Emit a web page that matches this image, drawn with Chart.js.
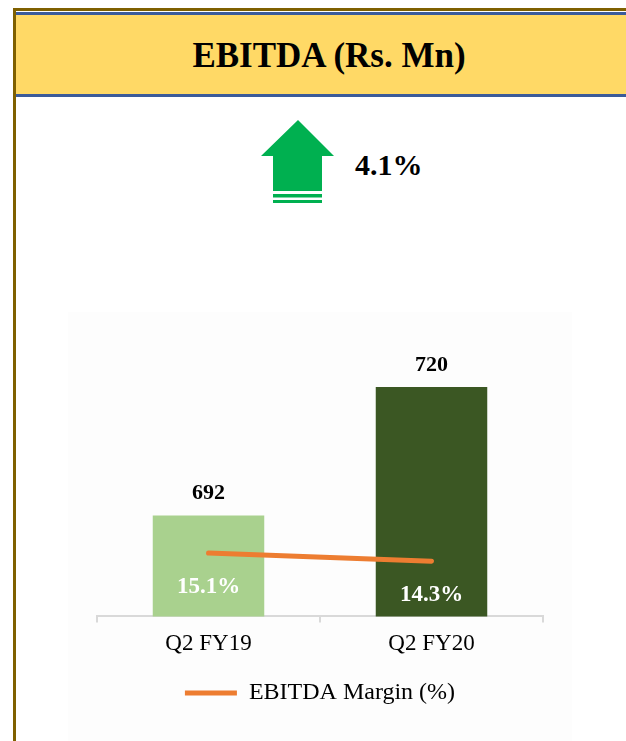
<!DOCTYPE html>
<html>
<head>
<meta charset="utf-8">
<script src="https://cdn.jsdelivr.net/npm/chart.js@4/dist/chart.umd.min.js"></script>
<style>
  html, body { margin: 0; padding: 0; background: #ffffff; }
  body { width: 626px; height: 741px; position: relative; overflow: hidden; }
  #deco { position: absolute; left: 0; top: 0; }
  #wrap { position: absolute; left: 68px; top: 312px; width: 504px; height: 429px; background: #fdfdfd; }
  #chart { display: block; }
</style>
</head>
<body>
<svg id="deco" width="626" height="741" xmlns="http://www.w3.org/2000/svg">
  <rect x="13" y="8" width="613" height="3" fill="#7f6000"/>
  <rect x="13" y="8" width="3" height="733" fill="#7f6000"/>
  <rect x="16" y="12" width="610" height="85" fill="#ffd966"/>
  <rect x="16" y="12" width="610" height="3" fill="#3b5b9a"/>
  <rect x="16" y="94" width="610" height="3" fill="#3b5b9a"/>
  <text x="329" y="67" text-anchor="middle" font-family="Liberation Serif" font-weight="bold" font-size="35" fill="#000">EBITDA (Rs. Mn)</text>
  <polygon points="298,120 334,156 322,156 322,191 273,191 273,156 261,156" fill="#00b050"/>
  <rect x="273" y="194" width="49" height="3.5" fill="#00b050"/>
  <rect x="273" y="200" width="49" height="3" fill="#00b050"/>
  <text x="355" y="175" font-family="Liberation Serif" font-weight="bold" font-size="30" fill="#000">4.1%</text>
</svg>
<div id="wrap"><canvas id="chart" width="504" height="429"></canvas></div>
<script>
const categories = ['Q2 FY19', 'Q2 FY20'];
const ebitdaValues = [692, 720];
const marginValues = [15.1, 14.3];
const barColors = ['#a9d18e', '#3b5723'];
const seriesNames = ['EBITDA (Rs. Mn)', 'EBITDA Margin (%)'];

Chart.defaults.font.family = 'Liberation Serif';
Chart.defaults.color = '#000';

const labelPlugin = {
  id: 'valueLabels',
  afterDatasetsDraw(chart) {
    const ctx = chart.ctx;
    ctx.save();
    ctx.textAlign = 'center';
    ctx.textBaseline = 'alphabetic';
    ctx.font = 'bold 22px "Liberation Serif"';
    const barMeta = chart.getDatasetMeta(0);
    barMeta.data.forEach((el, i) => {
      ctx.fillStyle = '#000';
      ctx.fillText(String(ebitdaValues[i]), el.x, el.y - 16);
    });
    ctx.font = 'bold 23px "Liberation Serif"';
    const lineMeta = chart.getDatasetMeta(1);
    lineMeta.data.forEach((el, i) => {
      ctx.fillStyle = '#fff';
      ctx.fillText(marginValues[i].toFixed(1) + '%', el.x, el.y + 40);
    });
    ctx.restore();
  }
};

new Chart(document.getElementById('chart'), {
  type: 'bar',
  data: {
    labels: categories,
    datasets: [
      {
        type: 'bar',
        label: seriesNames[0],
        data: ebitdaValues,
        backgroundColor: barColors,
        borderWidth: 0,
        yAxisID: 'y',
        order: 1,
        categoryPercentage: 1.0,
        barPercentage: 0.5
      },
      {
        type: 'line',
        label: seriesNames[1],
        data: marginValues,
        borderColor: '#ed7d31',
        backgroundColor: '#ed7d31',
        borderWidth: 5,
        borderCapStyle: 'round',
        pointRadius: 0,
        tension: 0,
        yAxisID: 'y2',
        order: 0
      }
    ]
  },
  options: {
    responsive: false,
    animation: false,
    layout: { padding: { left: 29, right: 29, top: 20, bottom: 26 } },
    scales: {
      x: {
        grid: { display: true, drawOnChartArea: false, offset: true, tickLength: 6, color: '#d9d9d9', lineWidth: 2 },
        border: { display: true, color: '#d9d9d9', width: 2 },
        ticks: { color: '#000', font: { size: 23 }, padding: 8 }
      },
      y: { display: false, min: 670, max: 732 },
      y2: { display: false, min: 8.84, max: 36.97 }
    },
    plugins: {
      legend: {
        position: 'bottom',
        labels: {
          filter: (item) => item.datasetIndex === 1,
          usePointStyle: true,
          pointStyle: 'line',
          pointStyleWidth: 52,
          font: { size: 24 },
          color: '#000',
          padding: 15
        }
      },
      tooltip: { enabled: false }
    }
  },
  plugins: [labelPlugin]
});
</script>
</body>
</html>
